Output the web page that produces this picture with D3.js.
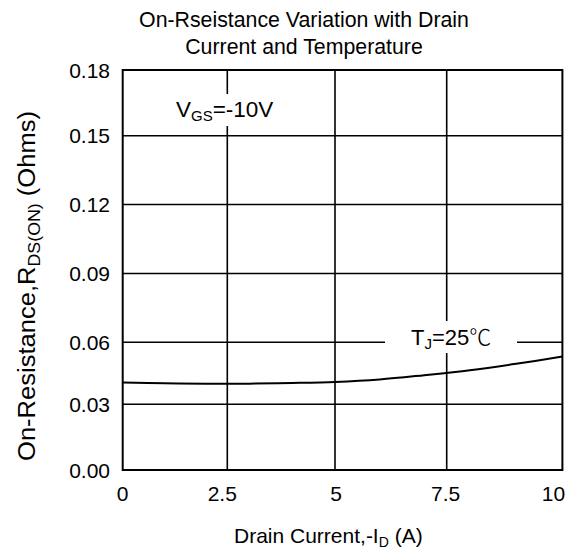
<!DOCTYPE html>
<html>
<head>
<meta charset="utf-8">
<script src="https://cdn.jsdelivr.net/npm/d3@7"></script>
<style>
  html, body { margin: 0; padding: 0; background: #fff; }
  svg { display: block; }
  text { font-family: "Liberation Sans", Arial, sans-serif; fill: #000; }
</style>
</head>
<body>
<svg id="chart" width="576" height="553"></svg>
<script>
// ---- data ----
const titleLines = ["On-Rseistance Variation with Drain", "Current and Temperature"];
const xTicks = [0, 2.5, 5, 7.5, 10];
const xTickLabels = ["0", "2.5", "5", "7.5", "10"];
const yTicks = [0, 0.03, 0.06, 0.09, 0.12, 0.15, 0.18];
const yTickLabels = ["0.00", "0.03", "0.06", "0.09", "0.12", "0.15", "0.18"];
const drainCurrent = [0, 1, 2, 3, 4, 5, 6, 7, 8, 9, 10];
const rdsOn25C = [0.0405, 0.0402, 0.0400, 0.0400, 0.0403, 0.0408, 0.0420, 0.0441, 0.0465, 0.0496, 0.0531];

(function () {
// ---- layout ----
const svg = d3.select("#chart");
const pLeft = 122.7, pRight = 562.4, pTop = 70, pBottom = 470;
const xLabelShift = [0, -5, 1, -1, -9];

// scanned-style grid: slightly uneven spacing, captured with polylinear scales
const x = d3.scaleLinear()
  .domain(xTicks)
  .range([pLeft, 227.3, 335, 446.7, pRight]);
const y = d3.scaleLinear()
  .domain([0, 0.03, 0.06, 0.15, 0.18])
  .range([pBottom, 404.3, 342.3, 135.7, pTop]);

const g = svg.append("g");

// gridlines
g.selectAll("line.vg").data(xTicks.slice(1, -1)).join("line")
  .attr("class", "vg")
  .attr("x1", d => x(d)).attr("x2", d => x(d))
  .attr("y1", pTop).attr("y2", pBottom)
  .attr("stroke", "#000").attr("stroke-width", 1.6);
g.selectAll("line.hg").data(yTicks.slice(1, -1)).join("line")
  .attr("class", "hg")
  .attr("y1", d => y(d)).attr("y2", d => y(d))
  .attr("x1", pLeft).attr("x2", pRight)
  .attr("stroke", "#000").attr("stroke-width", 1.6);

// curve
const line = d3.line()
  .x((d, i) => x(drainCurrent[i]))
  .y(d => y(d))
  .curve(d3.curveCatmullRom);
g.append("path").datum(rdsOn25C)
  .attr("d", line)
  .attr("fill", "none").attr("stroke", "#000").attr("stroke-width", 2);

// label boxes (white backgrounds that break the gridlines)
g.append("rect").attr("x", 168).attr("y", 94).attr("width", 116).attr("height", 32).attr("fill", "#fff");
g.append("rect").attr("x", 385).attr("y", 321).attr("width", 132).attr("height", 32).attr("fill", "#fff");

// frame
g.append("rect")
  .attr("x", pLeft).attr("y", pTop)
  .attr("width", pRight - pLeft).attr("height", pBottom - pTop)
  .attr("fill", "none").attr("stroke", "#000").attr("stroke-width", 2);

// axes tick labels
const fs = 21;
svg.append("g").selectAll("text").data(xTicks).join("text")
  .attr("x", (d, i) => x(d) + xLabelShift[i])
  .attr("y", 501)
  .attr("text-anchor", "middle")
  .attr("font-size", fs)
  .text((d, i) => xTickLabels[i]);

svg.append("g").selectAll("text").data(yTicks).join("text")
  .attr("x", 110)
  .attr("y", d => y(d))
  .attr("dy", "0.36em")
  .attr("text-anchor", "end")
  .attr("font-size", fs)
  .text((d, i) => yTickLabels[i]);

// title
svg.append("g").selectAll("text").data(titleLines).join("text")
  .attr("x", 304)
  .attr("y", (d, i) => 27 + i * 27)
  .attr("text-anchor", "middle")
  .attr("font-size", 21.3)
  .text(d => d);

// x axis title
const xt = svg.append("text")
  .attr("x", 234).attr("y", 543)
  .attr("font-size", 21);
xt.append("tspan").text("Drain Current,-I");
xt.append("tspan").attr("font-size", 14).attr("dy", 4).text("D");
xt.append("tspan").attr("dy", -4).text(" (A)");

// y axis title
const yt = svg.append("text")
  .attr("transform", "translate(35,286) rotate(-90)")
  .attr("text-anchor", "middle")
  .attr("font-size", 23)
  .attr("textLength", 350)
  .attr("lengthAdjust", "spacingAndGlyphs");
yt.append("tspan").text("On-Resistance,R");
yt.append("tspan").attr("font-size", 16).attr("dy", 5).text("DS(ON)");
yt.append("tspan").attr("dy", -5).text(" (Ohms)");

// annotations
const vgs = svg.append("text")
  .attr("x", 176).attr("y", 117)
  .attr("font-size", 22.5);
vgs.append("tspan").text("V");
vgs.append("tspan").attr("font-size", 15).attr("dy", 4).text("GS");
vgs.append("tspan").attr("dy", -4).text("=-10V");

const tj = svg.append("text")
  .attr("x", 411).attr("y", 345)
  .attr("font-size", 22);
tj.append("tspan").text("T");
tj.append("tspan").attr("font-size", 15).attr("dy", 4).text("J");
tj.append("tspan").attr("dy", -4).text("=25");
tj.append("tspan").attr("font-family", "'Noto Sans CJK SC', sans-serif").attr("font-weight", 300).text("℃");
})();
</script>
</body>
</html>
